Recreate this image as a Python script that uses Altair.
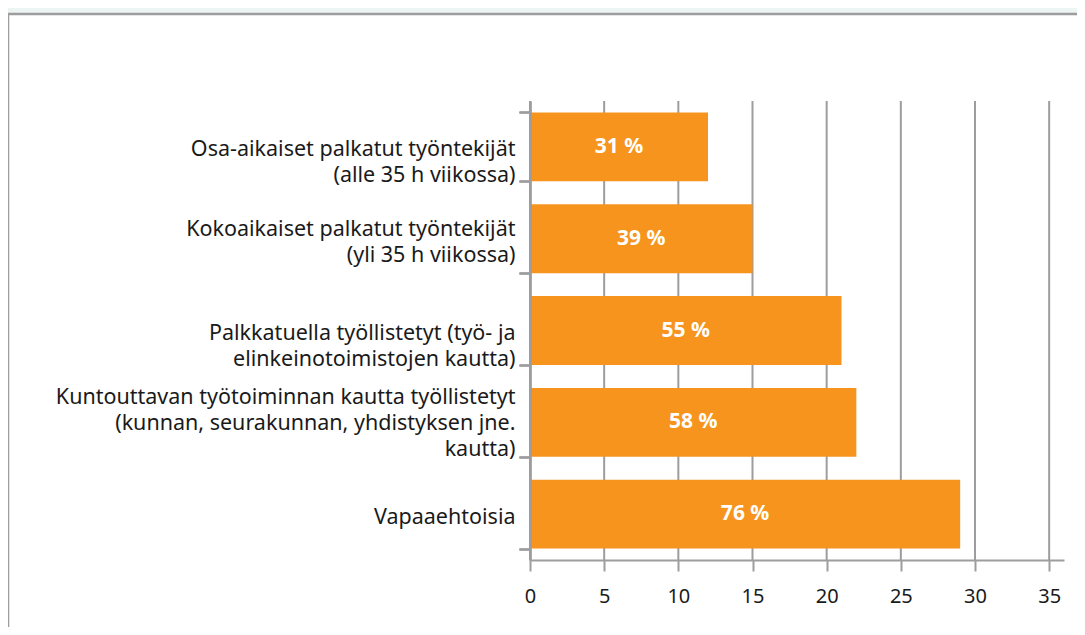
import altair as alt
import pandas as pd

categories = [
    "Osa-aikaiset palkatut työntekijät|(alle 35 h viikossa)",
    "Kokoaikaiset palkatut työntekijät|(yli 35 h viikossa)",
    "Palkkatuella työllistetyt (työ- ja|elinkeinotoimistojen kautta)",
    "Kuntouttavan työtoiminnan kautta työllistetyt|(kunnan, seurakunnan, yhdistyksen jne.|kautta)",
    "Vapaaehtoisia",
]
values = [12, 15, 21, 22, 29]
bar_labels = ["31 %", "39 %", "55 %", "58 %", "76 %"]
tick_values = [0, 5, 10, 15, 20, 25, 30, 35]

df = pd.DataFrame({"cat": categories, "value": values, "label": bar_labels})
grid_df = pd.DataFrame({"t": tick_values})

ORANGE = "#F7941D"
GRID = "#9D9D9F"
MINT = "#EDF5F2"
TEXT = "#1A1A1A"
FONT = "Noto Sans"

xscale = alt.Scale(domain=[0, 36], nice=False, zero=True)
yscale = alt.Scale(domain=categories, paddingInner=0.25, paddingOuter=0.125)

xaxis = alt.Axis(
    title=None, values=tick_values, grid=False, labelFont=FONT, labelFontSize=20,
    labelColor=TEXT, tickSize=11, tickWidth=2, tickColor=GRID, domainColor=GRID,
    domainWidth=2, labelPadding=15, zindex=1, labelFlush=False,
)


def y_axis(label_expr, offset):
    return alt.Axis(
        title=None, orient="left", labelExpr=label_expr, labelFont=FONT,
        labelFontSize=21.5, labelColor=TEXT, labelLineHeight=26, labelPadding=4,
        labelLimit=600, tickSize=11, tickWidth=2, tickColor=GRID, domainColor=GRID,
        domainWidth=2, tickBand="extent", zindex=1, labelOffset=offset,
    )


main_axis = y_axis(
    "substring(datum.label, 0, 4) == 'Koko' || substring(datum.label, 0, 4) == 'Kunt'"
    " ? '' : split(datum.label, '|')", 3)
koko_axis = y_axis(
    "substring(datum.label, 0, 4) == 'Koko' ? split(datum.label, '|') : ''", -9)
kunt_axis = y_axis(
    "substring(datum.label, 0, 4) == 'Kunt' ? split(datum.label, '|') : ''", -25)

panel = alt.Chart(pd.DataFrame({"a": [0]})).mark_rect(
    fill="white", stroke=GRID, strokeWidth=2.5
).encode(
    x=alt.value(-522), x2=alt.value(600), y=alt.value(-87), y2=alt.value(600)
)

grid = alt.Chart(grid_df).mark_rule(color=GRID, strokeWidth=2).encode(
    x=alt.X("t:Q", scale=xscale, axis=xaxis)
)

bars = alt.Chart(df).mark_bar(color=ORANGE).encode(
    y=alt.Y("cat:N", scale=yscale, sort=None, axis=main_axis),
    x=alt.X("value:Q", scale=xscale, axis=xaxis),
)

text_base = alt.Chart(df).transform_calculate(mid="datum.value / 2").mark_text(
    color="white", fontWeight="bold", fontSize=21, font=FONT
)

text_a = text_base.transform_filter("substring(datum.cat, 0, 4) != 'Kunt'").encode(
    y=alt.Y("cat:N", scale=yscale, sort=None, axis=koko_axis),
    x=alt.X("mid:Q", scale=xscale, axis=xaxis),
    text="label:N",
)

text_b = text_base.transform_filter("substring(datum.cat, 0, 4) == 'Kunt'").encode(
    y=alt.Y("cat:N", scale=yscale, sort=None, axis=kunt_axis),
    x=alt.X("mid:Q", scale=xscale, axis=xaxis),
    text="label:N",
)

chart = alt.layer(panel, grid, bars, text_a, text_b).resolve_scale(
    y="independent"
).resolve_axis(
    y="independent"
).properties(
    width=534, height=459,
    padding={"left": 522, "top": 93, "right": 13, "bottom": 67},
    autosize=alt.AutoSizeParams(type="none"),
    background=MINT,
).configure_view(stroke=None)

chart.save("out.html", embed_options={"renderer": "svg", "actions": False})
